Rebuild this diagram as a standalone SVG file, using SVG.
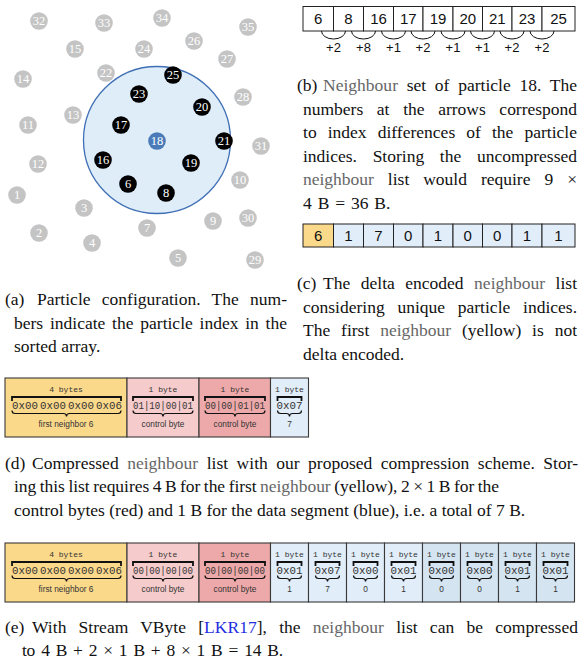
<svg xmlns="http://www.w3.org/2000/svg" width="582" height="664" viewBox="0 0 582 664">
<style>
.cap{font-family:"Liberation Serif","Times New Roman",serif;font-size:17.5px;fill:#111}
.nb{fill:#666}
.ref{fill:#1f2fe0}
.pg{fill:#c4c4c4}
.pb{fill:#000}
.pu{fill:#4a7bb8}
.pt{font-family:"Liberation Serif","Times New Roman",serif;font-size:12.5px;fill:#fff;text-anchor:middle}
.cell{stroke:#222;stroke-width:1}
.w{fill:#fff}
.num{font-family:"Liberation Sans",Arial,sans-serif;font-size:15px;fill:#111;text-anchor:middle}
.lbl{font-family:"Liberation Sans",Arial,sans-serif;font-size:13px;fill:#111;text-anchor:middle}
.arc{fill:none;stroke:#111;stroke-width:1}
.bx{stroke:#3a3a3a;stroke-width:1.1}
.y{fill:#fbd98b}
.pk{fill:#f5cbcb}
.rd{fill:#eda9a9}
.bl{fill:#e1edf8}
.bd{fill:#d4e4f1}
.mono{font-family:"Liberation Mono","DejaVu Sans Mono",monospace;fill:#333}
.sz{font-size:8px;text-anchor:middle}
.hx{font-size:10.8px}
.mid{text-anchor:middle}
.br{fill:none;stroke:#111;stroke-width:1.8}
.ub{fill:none;stroke:#111;stroke-width:1.2}
.sm{font-family:"Liberation Sans",Arial,sans-serif;font-size:8.3px;fill:#333;text-anchor:middle}
</style>

<!-- (a) particle configuration -->
<g id="cutoff">
<circle cx="157" cy="140" r="73.5" fill="#deedf8" stroke="#3f6fb5" stroke-width="1.3"/>
</g>
<g id="particles">
<g id="p32"><circle class="pg" cx="39" cy="21" r="8.8"/><text class="pt" x="39" y="25.3">32</text></g>
<g id="p33"><circle class="pg" cx="104" cy="23" r="8.8"/><text class="pt" x="104" y="27.3">33</text></g>
<g id="p34"><circle class="pg" cx="162" cy="18" r="8.8"/><text class="pt" x="162" y="22.3">34</text></g>
<g id="p35"><circle class="pg" cx="248" cy="27" r="8.8"/><text class="pt" x="248" y="31.3">35</text></g>
<g id="p15"><circle class="pg" cx="75" cy="49" r="8.8"/><text class="pt" x="75" y="53.3">15</text></g>
<g id="p24"><circle class="pg" cx="144" cy="49" r="8.8"/><text class="pt" x="144" y="53.3">24</text></g>
<g id="p26"><circle class="pg" cx="194" cy="41" r="8.8"/><text class="pt" x="194" y="45.3">26</text></g>
<g id="p27"><circle class="pg" cx="227" cy="59" r="8.8"/><text class="pt" x="227" y="63.3">27</text></g>
<g id="p22"><circle class="pg" cx="106" cy="73" r="8.8"/><text class="pt" x="106" y="77.3">22</text></g>
<g id="p14"><circle class="pg" cx="23" cy="79" r="8.8"/><text class="pt" x="23" y="83.3">14</text></g>
<g id="p28"><circle class="pg" cx="243" cy="97" r="8.8"/><text class="pt" x="243" y="101.3">28</text></g>
<g id="p13"><circle class="pg" cx="73" cy="115" r="8.8"/><text class="pt" x="73" y="119.3">13</text></g>
<g id="p11"><circle class="pg" cx="28" cy="125" r="8.8"/><text class="pt" x="28" y="129.3">11</text></g>
<g id="p31"><circle class="pg" cx="261" cy="146" r="8.8"/><text class="pt" x="261" y="150.3">31</text></g>
<g id="p12"><circle class="pg" cx="38" cy="164" r="8.8"/><text class="pt" x="38" y="168.3">12</text></g>
<g id="p1"><circle class="pg" cx="17" cy="195" r="8.8"/><text class="pt" x="17" y="199.3">1</text></g>
<g id="p10"><circle class="pg" cx="240" cy="180" r="8.8"/><text class="pt" x="240" y="184.3">10</text></g>
<g id="p3"><circle class="pg" cx="84" cy="208" r="8.8"/><text class="pt" x="84" y="212.3">3</text></g>
<g id="p9"><circle class="pg" cx="213" cy="221" r="8.8"/><text class="pt" x="213" y="225.3">9</text></g>
<g id="p30"><circle class="pg" cx="248" cy="218" r="8.8"/><text class="pt" x="248" y="222.3">30</text></g>
<g id="p7"><circle class="pg" cx="147" cy="228" r="8.8"/><text class="pt" x="147" y="232.3">7</text></g>
<g id="p2"><circle class="pg" cx="39" cy="233" r="8.8"/><text class="pt" x="39" y="237.3">2</text></g>
<g id="p4"><circle class="pg" cx="92" cy="243" r="8.8"/><text class="pt" x="92" y="247.3">4</text></g>
<g id="p5"><circle class="pg" cx="178" cy="258" r="8.8"/><text class="pt" x="178" y="262.3">5</text></g>
<g id="p29"><circle class="pg" cx="255" cy="260" r="8.8"/><text class="pt" x="255" y="264.3">29</text></g>
<g id="p25"><circle class="pb" cx="173" cy="75" r="8.8"/><text class="pt" x="173" y="79.3">25</text></g>
<g id="p23"><circle class="pb" cx="139" cy="94" r="8.8"/><text class="pt" x="139" y="98.3">23</text></g>
<g id="p20"><circle class="pb" cx="202" cy="107" r="8.8"/><text class="pt" x="202" y="111.3">20</text></g>
<g id="p17"><circle class="pb" cx="121" cy="125" r="8.8"/><text class="pt" x="121" y="129.3">17</text></g>
<g id="p21"><circle class="pb" cx="224" cy="141" r="8.8"/><text class="pt" x="224" y="145.3">21</text></g>
<g id="p16"><circle class="pb" cx="103" cy="160" r="8.8"/><text class="pt" x="103" y="164.3">16</text></g>
<g id="p19"><circle class="pb" cx="191" cy="163" r="8.8"/><text class="pt" x="191" y="167.3">19</text></g>
<g id="p6"><circle class="pb" cx="128" cy="184" r="8.8"/><text class="pt" x="128" y="188.3">6</text></g>
<g id="p8"><circle class="pb" cx="166" cy="193" r="8.8"/><text class="pt" x="166" y="197.3">8</text></g>
<g id="p18"><circle class="pu" cx="157" cy="141" r="8.8"/><text class="pt" x="157" y="145.3">18</text></g>
</g>

<!-- (b) neighbour set -->
<g id="b-list">
<rect class="cell w" x="303" y="6.5" width="30.5" height="24.5"/><text class="num" x="318.25" y="24.2">6</text>
<rect class="cell w" x="333.5" y="6.5" width="30" height="24.5"/><text class="num" x="348.5" y="24.2">8</text>
<rect class="cell w" x="363.5" y="6.5" width="30" height="24.5"/><text class="num" x="378.5" y="24.2">16</text>
<rect class="cell w" x="393.5" y="6.5" width="29.5" height="24.5"/><text class="num" x="408.25" y="24.2">17</text>
<rect class="cell w" x="423" y="6.5" width="30" height="24.5"/><text class="num" x="438" y="24.2">19</text>
<rect class="cell w" x="453" y="6.5" width="29.5" height="24.5"/><text class="num" x="467.75" y="24.2">20</text>
<rect class="cell w" x="482.5" y="6.5" width="29.5" height="24.5"/><text class="num" x="497.25" y="24.2">21</text>
<rect class="cell w" x="512" y="6.5" width="30" height="24.5"/><text class="num" x="527" y="24.2">23</text>
<rect class="cell w" x="542" y="6.5" width="33" height="24.5"/><text class="num" x="558.5" y="24.2">25</text>
</g>
<g id="connectors">
<path class="arc" d="M321.5,31A12,8 0 0 0 345.5,31"/>
<path class="arc" d="M351.5,31A12,8 0 0 0 375.5,31"/>
<path class="arc" d="M381.5,31A12,8 0 0 0 405.5,31"/>
<path class="arc" d="M411,31A12,8 0 0 0 435,31"/>
<path class="arc" d="M441,31A12,8 0 0 0 465,31"/>
<path class="arc" d="M470.5,31A12,8 0 0 0 494.5,31"/>
<path class="arc" d="M500,31A12,8 0 0 0 524,31"/>
<path class="arc" d="M530,31A12,8 0 0 0 554,31"/>
<text class="lbl" x="333.5" y="51.5">+2</text>
<text class="lbl" x="363.5" y="51.5">+8</text>
<text class="lbl" x="393.5" y="51.5">+1</text>
<text class="lbl" x="423" y="51.5">+2</text>
<text class="lbl" x="453" y="51.5">+1</text>
<text class="lbl" x="482.5" y="51.5">+1</text>
<text class="lbl" x="512" y="51.5">+2</text>
<text class="lbl" x="542" y="51.5">+2</text>
</g>

<!-- (c) delta encoded list -->
<g id="c-list">
<rect class="cell y" x="303" y="224" width="30.5" height="23"/><text class="num" x="318.25" y="241">6</text>
<rect class="cell bl" x="333.5" y="224" width="30" height="23"/><text class="num" x="348.5" y="241">1</text>
<rect class="cell bl" x="363.5" y="224" width="30" height="23"/><text class="num" x="378.5" y="241">7</text>
<rect class="cell bl" x="393.5" y="224" width="29.5" height="23"/><text class="num" x="408.25" y="241">0</text>
<rect class="cell bl" x="423" y="224" width="30" height="23"/><text class="num" x="438" y="241">1</text>
<rect class="cell bl" x="453" y="224" width="29.5" height="23"/><text class="num" x="467.75" y="241">0</text>
<rect class="cell bl" x="482.5" y="224" width="29.5" height="23"/><text class="num" x="497.25" y="241">0</text>
<rect class="cell bl" x="512" y="224" width="30" height="23"/><text class="num" x="527" y="241">1</text>
<rect class="cell bl" x="542" y="224" width="33" height="23"/><text class="num" x="558.5" y="241">1</text>
</g>

<!-- (d) compressed list -->
<g id="d-first">
<rect class="bx y" x="5" y="378" width="122" height="59"/>
<text class="mono sz" x="66" y="392">4 bytes</text>
<path class="br" d="M12,401V397H121V401"/>
<text class="mono hx" x="12" y="408.5" textLength="110" lengthAdjust="spacing" word-spacing="-4.4">0x00 0x00 0x00 0x06</text>
<path class="ub" d="M12,410.5q0,3 3,3H63.5q3,0 3,3q0,-3 3,-3H118q3,0 3,-3"/>
<text class="sm" x="66" y="427">first neighbor 6</text>
</g>
<g id="d-ctrl1">
<rect class="bx pk" x="127" y="378" width="72" height="59"/>
<text class="mono sz" x="163" y="392">1 byte</text>
<path class="br" d="M133,401V397H193V401"/>
<text class="mono hx" x="133" y="408.5" textLength="60" lengthAdjust="spacingAndGlyphs">01|10|00|01</text>
<path class="ub" d="M133,410.5q0,3 3,3H160q3,0 3,3q0,-3 3,-3H190q3,0 3,-3"/>
<text class="sm" x="163" y="427">control byte</text>
</g>
<g id="d-ctrl2">
<rect class="bx rd" x="199" y="378" width="71.5" height="59"/>
<text class="mono sz" x="235" y="392">1 byte</text>
<path class="br" d="M205,401V397H265V401"/>
<text class="mono hx" x="205" y="408.5" textLength="60" lengthAdjust="spacingAndGlyphs">00|00|01|01</text>
<path class="ub" d="M205,410.5q0,3 3,3H232q3,0 3,3q0,-3 3,-3H262q3,0 3,-3"/>
<text class="sm" x="235" y="427">control byte</text>
</g>
<g id="d-data">
<rect class="bx bl" x="270.5" y="378" width="38" height="59"/>
<text class="mono sz" x="289.5" y="392">1 byte</text>
<path class="br" d="M277.5,401V397H301.5V401"/>
<text class="mono hx mid" x="289.5" y="408.5">0x07</text>
<path class="ub" d="M277.5,410.5q0,3 3,3H286.5q3,0 3,3q0,-3 3,-3H298.5q3,0 3,-3"/>
<text class="sm" x="289.5" y="427">7</text>
</g>

<!-- (e) Stream VByte -->
<g id="e-first">
<rect class="bx y" x="5" y="543" width="122" height="59"/>
<text class="mono sz" x="66" y="557">4 bytes</text>
<path class="br" d="M12,566V562H121V566"/>
<text class="mono hx" x="12" y="573.5" textLength="110" lengthAdjust="spacing" word-spacing="-4.4">0x00 0x00 0x00 0x06</text>
<path class="ub" d="M12,575.5q0,3 3,3H63.5q3,0 3,3q0,-3 3,-3H118q3,0 3,-3"/>
<text class="sm" x="66" y="592">first neighbor 6</text>
</g>
<g id="e-ctrl1">
<rect class="bx pk" x="127" y="543" width="72" height="59"/>
<text class="mono sz" x="163" y="557">1 byte</text>
<path class="br" d="M133,566V562H193V566"/>
<text class="mono hx" x="133" y="573.5" textLength="60" lengthAdjust="spacingAndGlyphs">00|00|00|00</text>
<path class="ub" d="M133,575.5q0,3 3,3H160q3,0 3,3q0,-3 3,-3H190q3,0 3,-3"/>
<text class="sm" x="163" y="592">control byte</text>
</g>
<g id="e-ctrl2">
<rect class="bx rd" x="199" y="543" width="71.5" height="59"/>
<text class="mono sz" x="235" y="557">1 byte</text>
<path class="br" d="M205,566V562H265V566"/>
<text class="mono hx" x="205" y="573.5" textLength="60" lengthAdjust="spacingAndGlyphs">00|00|00|00</text>
<path class="ub" d="M205,575.5q0,3 3,3H232q3,0 3,3q0,-3 3,-3H262q3,0 3,-3"/>
<text class="sm" x="235" y="592">control byte</text>
</g>
<g id="e-d1"><rect class="bx bl" x="270.5" y="543" width="38" height="59"/><text class="mono sz" x="289.5" y="557">1 byte</text><path class="br" d="M277.5,566V562H301.5V566"/><text class="mono hx mid" x="289.5" y="573.5">0x01</text><path class="ub" d="M277.5,575.5q0,3 3,3H286.5q3,0 3,3q0,-3 3,-3H298.5q3,0 3,-3"/><text class="sm" x="289.5" y="592">1</text></g>
<g id="e-d2"><rect class="bx bl" x="308.5" y="543" width="38" height="59"/><text class="mono sz" x="327.5" y="557">1 byte</text><path class="br" d="M315.5,566V562H339.5V566"/><text class="mono hx mid" x="327.5" y="573.5">0x07</text><path class="ub" d="M315.5,575.5q0,3 3,3H324.5q3,0 3,3q0,-3 3,-3H336.5q3,0 3,-3"/><text class="sm" x="327.5" y="592">7</text></g>
<g id="e-d3"><rect class="bx bl" x="346.5" y="543" width="38" height="59"/><text class="mono sz" x="365.5" y="557">1 byte</text><path class="br" d="M353.5,566V562H377.5V566"/><text class="mono hx mid" x="365.5" y="573.5">0x00</text><path class="ub" d="M353.5,575.5q0,3 3,3H362.5q3,0 3,3q0,-3 3,-3H374.5q3,0 3,-3"/><text class="sm" x="365.5" y="592">0</text></g>
<g id="e-d4"><rect class="bx bl" x="384.5" y="543" width="38" height="59"/><text class="mono sz" x="403.5" y="557">1 byte</text><path class="br" d="M391.5,566V562H415.5V566"/><text class="mono hx mid" x="403.5" y="573.5">0x01</text><path class="ub" d="M391.5,575.5q0,3 3,3H400.5q3,0 3,3q0,-3 3,-3H412.5q3,0 3,-3"/><text class="sm" x="403.5" y="592">1</text></g>
<g id="e-d5"><rect class="bx bd" x="422.5" y="543" width="38" height="59"/><text class="mono sz" x="441.5" y="557">1 byte</text><path class="br" d="M429.5,566V562H453.5V566"/><text class="mono hx mid" x="441.5" y="573.5">0x00</text><path class="ub" d="M429.5,575.5q0,3 3,3H438.5q3,0 3,3q0,-3 3,-3H450.5q3,0 3,-3"/><text class="sm" x="441.5" y="592">0</text></g>
<g id="e-d6"><rect class="bx bd" x="460.5" y="543" width="38" height="59"/><text class="mono sz" x="479.5" y="557">1 byte</text><path class="br" d="M467.5,566V562H491.5V566"/><text class="mono hx mid" x="479.5" y="573.5">0x00</text><path class="ub" d="M467.5,575.5q0,3 3,3H476.5q3,0 3,3q0,-3 3,-3H488.5q3,0 3,-3"/><text class="sm" x="479.5" y="592">0</text></g>
<g id="e-d7"><rect class="bx bd" x="498.5" y="543" width="38" height="59"/><text class="mono sz" x="517.5" y="557">1 byte</text><path class="br" d="M505.5,566V562H529.5V566"/><text class="mono hx mid" x="517.5" y="573.5">0x01</text><path class="ub" d="M505.5,575.5q0,3 3,3H514.5q3,0 3,3q0,-3 3,-3H526.5q3,0 3,-3"/><text class="sm" x="517.5" y="592">1</text></g>
<g id="e-d8"><rect class="bx bd" x="536.5" y="543" width="38" height="59"/><text class="mono sz" x="555.5" y="557">1 byte</text><path class="br" d="M543.5,566V562H567.5V566"/><text class="mono hx mid" x="555.5" y="573.5">0x01</text><path class="ub" d="M543.5,575.5q0,3 3,3H552.5q3,0 3,3q0,-3 3,-3H564.5q3,0 3,-3"/><text class="sm" x="555.5" y="592">1</text></g>

<!-- captions -->
<g id="caption-a">
<text class="cap" x="5" y="305">(a)</text>
<text class="cap" x="37" y="305" textLength="250" lengthAdjust="spacing" word-spacing="6.9">Particle configuration. The num-</text>
<text class="cap" x="14" y="328.5" textLength="273" lengthAdjust="spacing" word-spacing="2.4">bers indicate the particle index in the</text>
<text class="cap" x="14" y="352">sorted array.</text>
</g>
<g id="caption-b">
<text class="cap" x="297" y="91">(b)</text>
<text class="cap" x="323" y="91" textLength="254" lengthAdjust="spacing" word-spacing="4.3"><tspan class="nb">Neighbour</tspan> set of particle 18. The</text>
<text class="cap" x="303" y="114.5" textLength="274" lengthAdjust="spacing" word-spacing="9.3">numbers at the arrows correspond</text>
<text class="cap" x="303" y="138" textLength="274" lengthAdjust="spacing" word-spacing="6.7">to index differences of the particle</text>
<text class="cap" x="303" y="161.5" textLength="274" lengthAdjust="spacing" word-spacing="11.3">indices. Storing the uncompressed</text>
<text class="cap" x="303" y="185" textLength="274" lengthAdjust="spacing" word-spacing="9.6"><tspan class="nb">neighbour</tspan> list would require 9 ×</text>
<text class="cap" x="303" y="208.5" word-spacing="1.5">4 B = 36 B.</text>
</g>
<g id="caption-c">
<text class="cap" x="297" y="289">(c)</text>
<text class="cap" x="323" y="289" textLength="254" lengthAdjust="spacing" word-spacing="6.1">The delta encoded <tspan class="nb">neighbour</tspan> list</text>
<text class="cap" x="303" y="312.5" textLength="274" lengthAdjust="spacing" word-spacing="8.4">considering unique particle indices.</text>
<text class="cap" x="303" y="336" textLength="274" lengthAdjust="spacing" word-spacing="6.5">The first <tspan class="nb">neighbour</tspan> (yellow) is not</text>
<text class="cap" x="303" y="359.5">delta encoded.</text>
</g>
<g id="caption-d">
<text class="cap" x="5" y="468.5">(d)</text>
<text class="cap" x="32" y="468.5" textLength="546" lengthAdjust="spacing" word-spacing="4.1">Compressed <tspan class="nb">neighbour</tspan> list with our proposed compression scheme. Stor-</text>
<text class="cap" x="14" y="492" textLength="485" lengthAdjust="spacing" word-spacing="-0.8">ing this list requires 4 B for the first <tspan class="nb">neighbour</tspan> (yellow), 2 × 1 B for the</text>
<text class="cap" x="14" y="515.5">control bytes (red) and 1 B for the data segment (blue), i.e. a total of 7 B.</text>
</g>
<g id="caption-e">
<text class="cap" x="5" y="632.5">(e)</text>
<text class="cap" x="32" y="632.5" textLength="546" lengthAdjust="spacing" word-spacing="7.8">With Stream VByte [<tspan class="ref">LKR17</tspan>], the <tspan class="nb">neighbour</tspan> list can be compressed</text>
<text class="cap" x="22" y="655.5" textLength="261" lengthAdjust="spacing" word-spacing="1.9">to 4 B + 2 × 1 B + 8 × 1 B = 14 B.</text>
</g>
</svg>
